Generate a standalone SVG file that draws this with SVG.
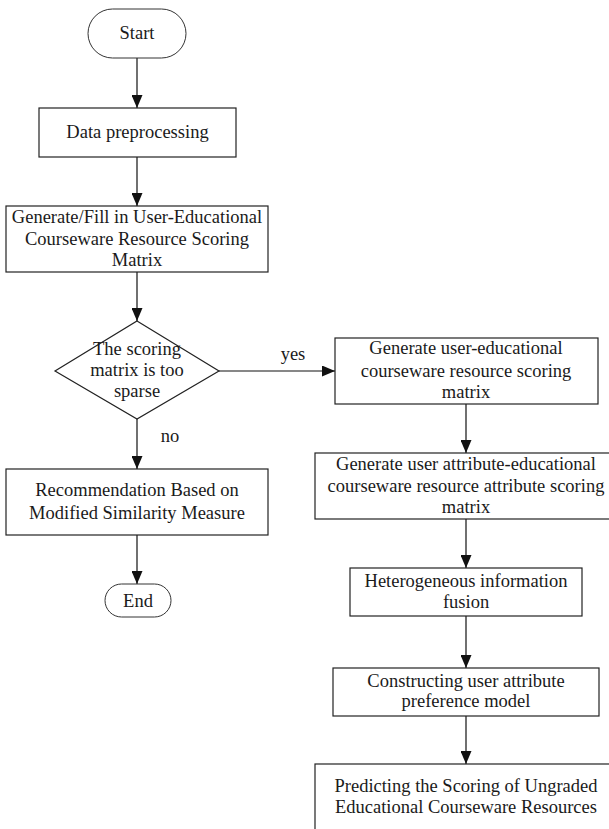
<svg xmlns="http://www.w3.org/2000/svg" width="609" height="829" viewBox="0 0 609 829">
<style>
.box{fill:#fff;stroke:#222;stroke-width:1.2}
.term{fill:#fff;stroke:#333;stroke-width:1}
.t{font-family:"Liberation Serif","Times New Roman",serif;font-size:18.5px;fill:#1a1a1a;text-anchor:middle}
.c{stroke:#111;stroke-width:1.2;fill:none;marker-end:url(#ah)}
</style>
<defs>
<marker id="ah" markerUnits="userSpaceOnUse" markerWidth="13" markerHeight="11" refX="13" refY="5.5" orient="auto">
<path d="M0,0 L13,5.5 L0,11 z" fill="#111"/>
</marker>
</defs>
<rect width="609" height="829" fill="#fff"/>
<g id="connectors">
<line class="c" x1="137" y1="58" x2="137" y2="108"/>
<line class="c" x1="137" y1="157" x2="137" y2="206"/>
<line class="c" x1="137" y1="272" x2="137" y2="321"/>
<line class="c" x1="137" y1="419" x2="137" y2="469"/>
<line class="c" x1="137" y1="535" x2="137" y2="584"/>
<line class="c" x1="219" y1="371" x2="335" y2="371"/>
<line class="c" x1="466" y1="404" x2="466" y2="453"/>
<line class="c" x1="466" y1="519" x2="466" y2="568"/>
<line class="c" x1="466" y1="616" x2="466" y2="668"/>
<line class="c" x1="466" y1="716" x2="466" y2="764"/>
<text class="t" x="293" y="360">yes</text>
<text class="t" x="170" y="442">no</text>
</g>
<g id="start">
<rect class="term" x="88" y="9" width="98" height="49" rx="24.5"/>
<text class="t" x="137" y="39">Start</text>
</g>
<g id="preprocess">
<rect class="box" x="39" y="108" width="197" height="49"/>
<text class="t" x="137.5" y="138">Data preprocessing</text>
</g>
<g id="fillmatrix">
<rect class="box" x="6" y="206" width="262" height="66"/>
<text class="t" x="137" y="223">Generate/Fill in User-Educational</text>
<text class="t" x="137" y="245">Courseware Resource Scoring</text>
<text class="t" x="137" y="266">Matrix</text>
</g>
<g id="decision">
<polygon class="box" points="137,321 219,371 137,419 55,371"/>
<text class="t" x="137" y="355">The scoring</text>
<text class="t" x="137" y="376">matrix is too</text>
<text class="t" x="137" y="397">sparse</text>
</g>
<g id="recommend">
<rect class="box" x="6" y="469" width="262" height="66"/>
<text class="t" x="137" y="496">Recommendation Based on</text>
<text class="t" x="137" y="519">Modified Similarity Measure</text>
</g>
<g id="end">
<rect class="term" x="105" y="584" width="66" height="33" rx="16.5"/>
<text class="t" x="138" y="607">End</text>
</g>
<g id="genmatrix">
<rect class="box" x="335" y="338" width="263" height="66"/>
<text class="t" x="466" y="354">Generate user-educational</text>
<text class="t" x="466" y="377">courseware resource scoring</text>
<text class="t" x="466" y="398">matrix</text>
</g>
<g id="attrmatrix">
<rect class="box" x="315" y="453" width="302" height="66"/>
<text class="t" x="466" y="470">Generate user attribute-educational</text>
<text class="t" x="466" y="492">courseware resource attribute scoring</text>
<text class="t" x="466" y="513">matrix</text>
</g>
<g id="fusion">
<rect class="box" x="350" y="568" width="232" height="48"/>
<text class="t" x="466" y="587">Heterogeneous information</text>
<text class="t" x="466" y="608">fusion</text>
</g>
<g id="preference">
<rect class="box" x="333" y="668" width="266" height="48"/>
<text class="t" x="466" y="687">Constructing user attribute</text>
<text class="t" x="466" y="707">preference model</text>
</g>
<g id="predict">
<rect class="box" x="315" y="764" width="302" height="80"/>
<text class="t" x="466" y="792">Predicting the Scoring of Ungraded</text>
<text class="t" x="466" y="813">Educational Courseware Resources</text>
</g>
</svg>
